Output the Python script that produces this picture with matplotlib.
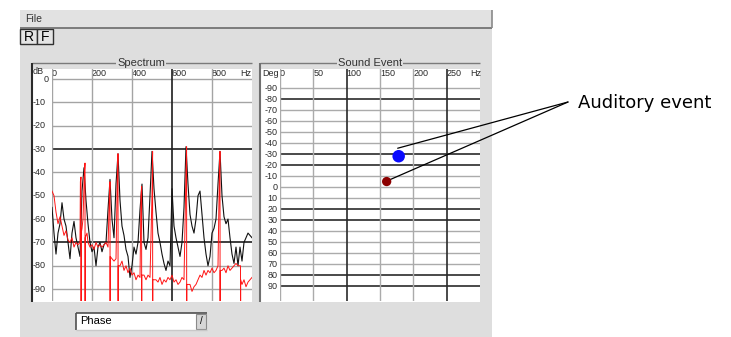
import matplotlib.pyplot as plt
import matplotlib.transforms as mtransforms
from matplotlib.patches import Rectangle

# spectrum, black trace on a 10 Hz grid
freq = list(range(0, 1001, 10))
level_db = [-55, -66, -75, -66, -62, -53, -60, -63, -70, -77,
            -66, -61, -68, -72, -76, -48, -38, -52, -62, -70,
            -74, -72, -80, -72, -70, -74, -71, -70, -56, -43,
            -60, -68, -45, -32, -52, -63, -67, -73, -76, -85,
            -80, -72, -75, -70, -56, -45, -70, -73, -68, -50,
            -31, -47, -57, -66, -70, -75, -79, -82, -78, -80,
            -47, -63, -68, -72, -76, -70, -55, -29, -45, -58,
            -63, -66, -60, -50, -48, -58, -68, -75, -80, -76,
            -66, -64, -60, -45, -31, -50, -59, -62, -60, -68,
            -75, -79, -72, -80, -72, -78, -70, -68, -66, -67,
            -68]

# red trace: harmonic lines, each dropping off the bottom right after its peak
red_freq = [0, 10, 20, 30, 40, 50, 60, 70, 80, 90, 100, 110, 120, 130, 140,
            142, 145, 145.5, 146, 150, 155, 162, 165, 165.5, 166, 175, 180,
            190, 200, 210, 220, 230, 240, 250, 260, 270, 280, 287, 290, 290.5,
            291, 300, 310, 320, 327, 330, 330.5, 331, 340, 350, 360, 370, 380,
            390, 400, 410, 420, 430, 440, 445, 448, 448.5, 449, 460, 470, 480,
            490, 500, 503, 503.5, 504, 520, 530, 540, 550, 560, 570, 580, 590,
            600, 610, 620, 630, 640, 650, 660, 670, 673, 673.5, 674, 690, 700,
            710, 720, 730, 740, 750, 760, 770, 780, 790, 800, 810, 820, 830,
            837, 840, 840.5, 841, 850, 860, 870, 880, 890, 900, 910, 920, 930,
            942.5, 943, 943.5, 950, 960, 970, 980, 990, 1000]
red_db = [-48, -50, -57, -62, -59, -63, -67, -65, -69, -70, -68, -72, -70, -71, -70,
          -44, -42, -120, -66, -64, -60, -40, -36, -120, -68, -66, -70,
          -72, -71, -73, -70, -72, -71, -72, -71, -70, -72, -50, -44, -120,
          -76, -77, -78, -77, -40, -32, -120, -80, -80, -78, -82, -80, -83,
          -81, -84, -83, -86, -84, -85, -50, -46, -120, -84, -84, -86, -84,
          -85, -50, -31, -120, -86, -86, -87, -85, -88, -86, -87, -85, -86,
          -84, -87, -86, -88, -87, -85, -86, -40, -29, -120, -88, -88, -91,
          -89, -88, -86, -84, -85, -82, -84, -82, -83, -81, -83, -82, -80,
          -40, -31, -120, -82, -82, -81, -83, -80, -82, -81, -80, -79, -80,
          -80, -120, -86, -88, -86, -89, -87, -86, -85]

spec_xticks = [0, 200, 400, 600, 800]
spec_xdark = [600]
spec_yticks = [0, -10, -20, -30, -40, -50, -60, -70, -80, -90]
spec_ydark = [-30, -70]

event_xticks = [0, 50, 100, 150, 200, 250]
event_xdark = [100, 250]
event_yticks = [-90, -80, -70, -60, -50, -40, -30, -20, -10, 0,
                10, 20, 30, 40, 50, 60, 70, 80, 90]
event_ydark = [-80, -30, -20, 20, 30, 80, 90]

# auditory events: (frequency Hz, direction deg)
event_freq = [178, 160]
event_deg = [-28, -5]
event_size = [81, 45]
event_color = ['#0a0aff', '#8c0000']

W, H = 731, 337
PANEL = '#dedede'
UI_FONT = 'Liberation Sans'
TICK_FS = 6.5

fig = plt.figure(figsize=(W / 100, H / 100), dpi=100)
fig.patch.set_facecolor('white')

ui = fig.add_axes([0, 0, 1, 1])
ui.set_xlim(0, W)
ui.set_ylim(H, 0)
ui.axis('off')


def px_axes(x0, y0, x1, y1):
    ax = fig.add_axes([x0 / W, 1 - y1 / H, (x1 - x0) / W, (y1 - y0) / H])
    ax.set_facecolor('none')
    ax.axis('off')
    return ax


def line(x0, y0, x1, y1, color, lw=1.0):
    ui.plot([x0, x1], [y0, y1], color=color, lw=lw, solid_capstyle='butt')


def label(x, y, s, transform=None, **kw):
    kw.setdefault('va', 'center')
    ui.text(x, y, s, transform=transform or ui.transData, fontsize=TICK_FS,
            family=UI_FONT, color='#2a2a2a', **kw)


# window chrome
ui.add_patch(Rectangle((20, 10), 472, 327, fc=PANEL, ec='none'))
ui.add_patch(Rectangle((20, 10), 472, 18, fc='#e2e2e2', ec='none'))
line(20, 28, 492, 28, '#6a6a6a', 1.2)
line(491.5, 10, 491.5, 28, '#8a8a8a', 1.2)
ui.text(25, 19, 'File', fontsize=7.5, family=UI_FONT, color='#333333', va='center')

for x0, w, s in [(20, 17, 'R'), (37, 16, 'F')]:
    ui.add_patch(Rectangle((x0, 29), w, 15, fc='#e4e4e4', ec='#303030', lw=1))
    ui.text(x0 + w / 2, 36.8, s, fontsize=10, family=UI_FONT, ha='center', va='center')

# group frames
for x0, x1, title, cx, edge in [(32, 252, 'Spectrum', 141, '#2a2a2a'),
                                (260, 480, 'Sound Event', 370, '#707070')]:
    ui.add_patch(Rectangle((x0, 69), x1 - x0, 233, fc='white', ec='none'))
    line(x0, 63, x1, 63, '#7a7a7a', 1.0)
    line(x0, 63, x0, 302, edge, 1.5)
    ui.text(cx, 62.5, title, fontsize=8, family=UI_FONT, ha='center', va='center',
            color='#333333', bbox=dict(fc=PANEL, ec='none', pad=0.6))

# spectrum plot
spec = px_axes(52, 69, 252, 301)
spec.set_xlim(0, 1000)
spec.set_ylim(-95.1, 4.3)
for v in spec_yticks:
    dark = v in spec_ydark
    spec.axhline(v, color='#1e1e1e' if dark else '#a4a4a4', lw=1.2 if dark else 1.0)
for f in spec_xticks:
    dark = f in spec_xdark
    spec.axvline(f, color='#1e1e1e' if dark else '#a4a4a4', lw=1.2 if dark else 1.0)
spec.plot(freq, level_db, color='#111111', lw=0.8)
spec.plot(red_freq, red_db, color='#ff1414', lw=0.7)

sx = mtransforms.blended_transform_factory(spec.transData, ui.transData)
sy = mtransforms.blended_transform_factory(ui.transData, spec.transData)
for f in spec_xticks:
    label(f, 74, str(f), transform=sx, ha='left')
label(240, 74, 'Hz')
label(33, 72, 'dB')
for v in spec_yticks:
    if v == 0:
        label(44, v, '0', transform=sy)
    else:
        label(32.5, v, str(v), transform=sy)

# sound event plot
event = px_axes(280, 69, 480, 301)
event.set_xlim(0, 300)
event.set_ylim(103.6, -107.3)
for v in event_yticks:
    dark = v in event_ydark
    event.axhline(v, color='#2a2a2a' if dark else '#ababab', lw=1.2 if dark else 1.0)
for f in event_xticks:
    dark = f in event_xdark
    event.axvline(f, color='#2a2a2a' if dark else '#ababab', lw=1.2 if dark else 1.0)
event.scatter(event_freq, event_deg, s=event_size, c=event_color, zorder=5,
              linewidths=0)

ex = mtransforms.blended_transform_factory(event.transData, ui.transData)
ey = mtransforms.blended_transform_factory(ui.transData, event.transData)
for f in event_xticks:
    label(f, 74, str(f), transform=ex, ha='left')
label(470, 74, 'Hz')
label(262, 73, 'Deg')
for v in event_yticks:
    label(277.5, v, str(v), transform=ey, ha='right')

# phase selector
ui.add_patch(Rectangle((76, 313), 131, 17, fc='white', ec='none'))
line(76, 313, 207, 313, '#505050', 1.2)
line(76, 313, 76, 330, '#505050', 1.2)
line(76, 330, 207, 330, '#c8c8c8', 1.0)
ui.add_patch(Rectangle((196, 314), 10, 15, fc='#d6d6d6', ec='#8a8a8a', lw=0.8))
ui.text(201, 321.5, '/', fontsize=7, family=UI_FONT, ha='center', va='center')
ui.text(80, 321.5, 'Phase', fontsize=8, family=UI_FONT, va='center')

# callout
ui.text(578, 103, 'Auditory event', fontsize=13, family='DejaVu Sans', va='center')
apex = (568, 102)
for f, d, dy in zip(event_freq, event_deg, [8, 0]):
    tip = mtransforms.offset_copy(event.transData, fig=fig, x=-1, y=dy, units='dots')
    event.annotate('', xy=(f, d), xycoords=tip, xytext=apex, textcoords=ui.transData,
                   arrowprops=dict(arrowstyle='-', lw=0.9, color='black',
                                   shrinkA=0, shrinkB=0), annotation_clip=False)

fig.savefig('out.png', dpi=100)
